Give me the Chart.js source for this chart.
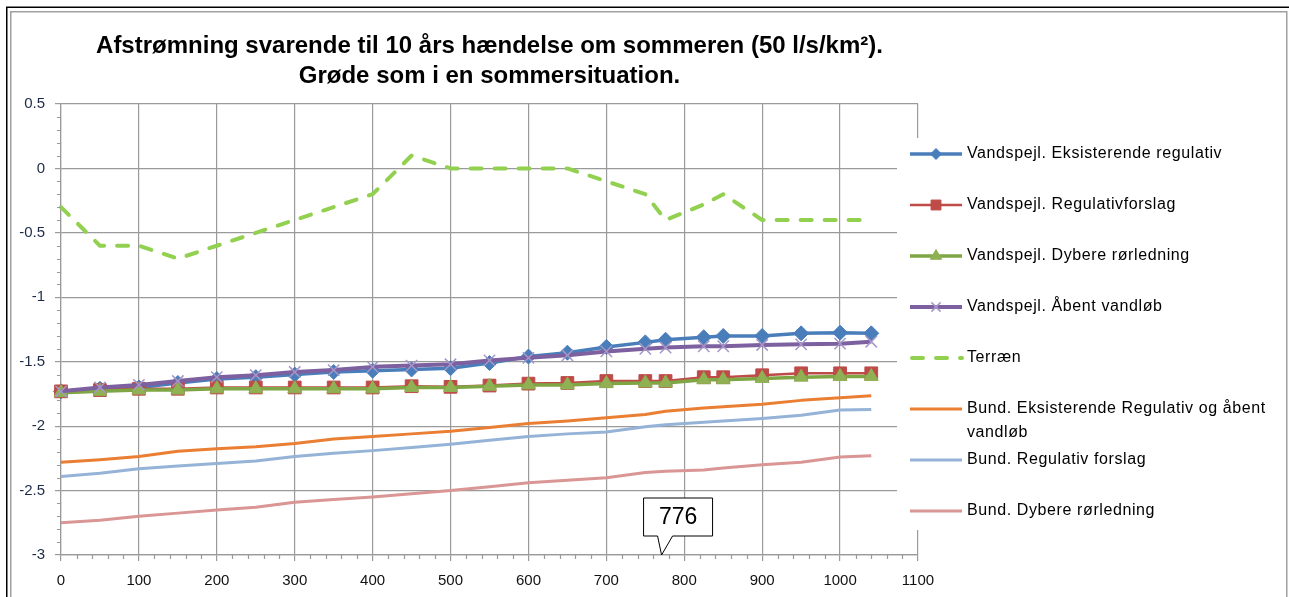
<!DOCTYPE html>
<html><head><meta charset="utf-8">
<script src="https://cdn.jsdelivr.net/npm/chart.js@4/dist/chart.umd.min.js"></script>
<style>html,body{margin:0;padding:0;background:#fff;overflow:hidden}#wrap{position:relative;width:1289px;height:597px}canvas{display:block}</style>
</head><body><div id="wrap"><canvas id="c" width="1289" height="597"></canvas></div>
<script>
// ---- DATA ----
const stations = [0,50,100,150,200,250,300,350,400,450,500,550,600,650,700,750,776,825,850,900,950,1000,1040];
const vsEksisterende = [-1.73,-1.71,-1.70,-1.665,-1.635,-1.62,-1.60,-1.58,-1.57,-1.56,-1.55,-1.51,-1.46,-1.43,-1.385,-1.35,-1.33,-1.31,-1.30,-1.30,-1.28,-1.275,-1.28];
const vsRegulativforslag = [-1.73,-1.72,-1.71,-1.71,-1.70,-1.70,-1.70,-1.70,-1.70,-1.69,-1.695,-1.685,-1.67,-1.665,-1.65,-1.65,-1.65,-1.62,-1.62,-1.605,-1.59,-1.59,-1.59];
const vsDybere = [-1.74,-1.73,-1.72,-1.72,-1.71,-1.71,-1.71,-1.71,-1.71,-1.70,-1.70,-1.69,-1.68,-1.68,-1.67,-1.665,-1.665,-1.64,-1.64,-1.63,-1.62,-1.615,-1.615];
const vsAabent = [-1.73,-1.70,-1.68,-1.65,-1.62,-1.605,-1.58,-1.565,-1.54,-1.53,-1.52,-1.49,-1.47,-1.45,-1.42,-1.40,-1.39,-1.38,-1.38,-1.37,-1.365,-1.36,-1.345];
const terraen = [-0.3,-0.6,-0.6,-0.7,-0.6,-0.5,-0.4,-0.3,-0.2,0.1,0,0,0,0,-0.1,-0.2,-0.4,-0.28,-0.2,-0.4,-0.4,-0.4,-0.4];
const bundEksisterende = [-2.28,-2.26,-2.235,-2.195,-2.175,-2.16,-2.135,-2.1,-2.08,-2.06,-2.04,-2.01,-1.98,-1.96,-1.935,-1.91,-1.885,-1.86,-1.85,-1.83,-1.80,-1.78,-1.765];
const bundRegulativ = [-2.39,-2.365,-2.33,-2.31,-2.29,-2.27,-2.235,-2.21,-2.19,-2.165,-2.14,-2.11,-2.08,-2.06,-2.045,-2.005,-1.99,-1.97,-1.96,-1.94,-1.915,-1.875,-1.87];
const bundDybere = [-2.75,-2.73,-2.70,-2.675,-2.65,-2.63,-2.59,-2.57,-2.55,-2.525,-2.50,-2.47,-2.44,-2.42,-2.40,-2.36,-2.35,-2.34,-2.325,-2.30,-2.28,-2.24,-2.23];
const seriesLabels = ['Vandspejl. Eksisterende regulativ','Vandspejl. Regulativforslag','Vandspejl. Dybere rørledning','Vandspejl. Åbent vandløb','Terræn','Bund. Eksisterende Regulativ og åbent vandløb','Bund. Regulativ forslag','Bund. Dybere rørledning'];
const titleLines = ['Afstrømning svarende til 10 års hændelse om sommeren (50 l/s/km²).','Grøde som i en sommersituation.'];
const xTickRange = {min:0, max:1100, step:100, minor:20};
const yTickRange = {min:-3, max:0.5, step:0.5, minor:0.1};
const calloutStation = 776;
const calloutText = '776';

// ---- BUILD ----
const pts = arr => stations.map((s,i)=>({x:s,y:arr[i]}));
const styles = [
  {c:'#4a7ebb', w:3.5, ps:'rectRot', r:7.5, pc:'#4a7ebb', pb:'#4a7ebb', pw:1, lr:5.5},
  {c:'#be4b48', w:2.5, ps:'rect', r:9, pc:'#be4b48', pb:'#be4b48', pw:1, lr:7},
  {c:'#7fa644', w:3.5, ps:'triangle', r:8, pc:'#8fb153', pb:'#8fb153', pw:1, lr:6.5},
  {c:'#7d60a0', w:4, ps:'crossRot', r:8, pc:'#a596c8', pb:'#a596c8', pw:1.5, lr:6.5},
  {c:'#92d050', w:4, ps:false, r:0, dash:[11,13]},
  {c:'#ea7e32', w:3, ps:false, r:0},
  {c:'#95b3d7', w:3, ps:false, r:0},
  {c:'#d99694', w:3, ps:false, r:0}
];
const seriesData = [vsEksisterende, vsRegulativforslag, vsDybere, vsAabent, terraen, bundEksisterende, bundRegulativ, bundDybere];
const datasets = seriesData.map((arr,i)=>{
  const s = styles[i];
  return {
    label: seriesLabels[i], data: pts(arr),
    borderColor: s.c, borderWidth: s.w, borderDash: s.dash||[], borderCapStyle: s.dash?'round':'butt',
    borderJoinStyle:'round',
    pointStyle: s.ps, pointRadius: s.r, pointBackgroundColor: s.pc||s.c, pointBorderColor: s.pb||s.c,
    pointBorderWidth: s.pw||1, pointHoverRadius: s.r, tension:0, clip:false, fill:false,
    order: 20 - i, _legendRadius: s.lr||0
  };
});

const GRID = '#9a9a9a';
const FONT = '"Liberation Sans", Arial, sans-serif';
const LEG = {boxLeft:897, boxTop:138, boxRight:1284, boxBottom:530, lineX1:910, lineX2:962, textX:967, firstY:154, step:51, maxW:322, lineH:24};

const framePlugin = {
  id:'frame',
  beforeDraw(chart){
    const ctx = chart.ctx; ctx.save();
    ctx.fillStyle='#fff'; ctx.fillRect(0,0,chart.width,chart.height);
    ctx.strokeStyle='#a0a0a0'; ctx.lineWidth=1.5;
    ctx.strokeRect(10.75,11.75,1276,600);
    ctx.strokeStyle='#000'; ctx.lineWidth=1.5;
    ctx.beginPath(); ctx.moveTo(6.75,700); ctx.lineTo(6.75,7.25); ctx.lineTo(1289,7.25); ctx.stroke();
    ctx.restore();
  },
  beforeDatasetsDraw(chart){
    const ctx = chart.ctx; ctx.save();
    ctx.fillStyle='#fff';
    ctx.fillRect(LEG.boxLeft, LEG.boxTop, LEG.boxRight-LEG.boxLeft, LEG.boxBottom-LEG.boxTop);
    ctx.restore();
  },
  afterDraw(chart){
    const ctx = chart.ctx; const {x,y} = chart.scales;
    ctx.save();
    // minor ticks
    ctx.strokeStyle=GRID; ctx.lineWidth=1.2;
    ctx.beginPath();
    const nY = Math.round((yTickRange.max-yTickRange.min)/yTickRange.minor);
    for(let k=0;k<=nY;k++){
      const v = yTickRange.min + k*yTickRange.minor;
      const r = v/yTickRange.step; if(Math.abs(r-Math.round(r))<1e-6) continue;
      const py = Math.round(y.getPixelForValue(v))+0.5;
      ctx.moveTo(x.left-4,py); ctx.lineTo(x.left,py);
    }
    for(let v=xTickRange.min; v<=xTickRange.max; v+=xTickRange.minor){
      if(v % xTickRange.step===0) continue;
      const px = Math.round(x.getPixelForValue(v))+0.5;
      ctx.moveTo(px,y.bottom); ctx.lineTo(px,y.bottom+4);
    }
    ctx.stroke();
    // legend
    ctx.font = '16px ' + FONT;
    try { ctx.letterSpacing = '0.6px'; } catch(e) {}
    ctx.textBaseline='middle'; ctx.textAlign='left';
    chart.data.datasets.forEach((ds,i)=>{
      const cy = LEG.firstY + i*LEG.step;
      ctx.save();
      ctx.strokeStyle=ds.borderColor; ctx.lineWidth=ds.borderWidth; ctx.lineCap=ds.borderCapStyle;
      ctx.setLineDash(ds.borderDash||[]);
      ctx.beginPath(); ctx.moveTo(LEG.lineX1+ (ds.borderDash.length?2:0),cy); ctx.lineTo(LEG.lineX2,cy); ctx.stroke();
      ctx.setLineDash([]);
      if(ds.pointStyle){
        ctx.fillStyle=ds.pointBackgroundColor; ctx.strokeStyle=ds.pointBorderColor; ctx.lineWidth=ds.pointBorderWidth;
        Chart.helpers.drawPoint(ctx,{pointStyle:ds.pointStyle, radius:ds._legendRadius, rotation:0, borderWidth:ds.pointBorderWidth}, (LEG.lineX1+LEG.lineX2)/2, cy);
      }
      ctx.restore();
      ctx.fillStyle='#000';
      const words = ds.label.split(' '); const lines=[]; let cur='';
      words.forEach(w=>{ const t = cur?cur+' '+w:w; if(ctx.measureText(t).width>LEG.maxW && cur){lines.push(cur);cur=w;} else cur=t; });
      lines.push(cur);
      lines.forEach((ln,j)=>ctx.fillText(ln, LEG.textX, cy + j*LEG.lineH));
    });
    try { ctx.letterSpacing = '0px'; } catch(e) {}
    // callout
    const tx = x.getPixelForValue(calloutStation), ty = y.getPixelForValue(yTickRange.min);
    const bl = tx-22, br = tx+47, bt = ty-57, bb = ty-19;
    ctx.beginPath();
    ctx.moveTo(bl,bt); ctx.lineTo(br,bt); ctx.lineTo(br,bb); ctx.lineTo(tx+7,bb); ctx.lineTo(tx-4,ty); ctx.lineTo(tx-8,bb); ctx.lineTo(bl,bb); ctx.closePath();
    ctx.fillStyle='#fff'; ctx.fill(); ctx.strokeStyle='#000'; ctx.lineWidth=1; ctx.stroke();
    ctx.fillStyle='#000'; ctx.font='23px ' + FONT; ctx.textAlign='center'; ctx.textBaseline='middle';
    ctx.fillText(calloutText, (bl+br)/2, (bt+bb)/2+1);
    ctx.restore();
  }
};

const fmt = v => String(Math.round(v*100)/100);

new Chart(document.getElementById('c'), {
  type:'line',
  data:{datasets},
  options:{
    responsive:false, animation:false, devicePixelRatio:1,
    layout:{padding:{left:0,right:371,top:0,bottom:0}},
    plugins:{
      legend:{display:false}, tooltip:{enabled:false},
      title:{display:true, fullSize:false, text:titleLines, color:'#000',
        font:{family:FONT, size:24, weight:'bold', lineHeight:1.25},
        padding:{top:31,bottom:13}}
    },
    scales:{
      x:{type:'linear', min:xTickRange.min, max:xTickRange.max,
        ticks:{stepSize:xTickRange.step, color:'#111', padding:11, maxRotation:0, callback:fmt,
          font:{family:FONT, size:15}},
        grid:{color:GRID, lineWidth:1.2, tickLength:6, tickColor:GRID},
        border:{color:GRID, width:1.2},
        afterFit(s){ s.height = 42; }
      },
      y:{type:'linear', min:yTickRange.min, max:yTickRange.max,
        ticks:{stepSize:yTickRange.step, color:'#1c2a48', padding:10, callback:fmt,
          font:{family:FONT, size:15}},
        grid:{color:GRID, lineWidth:1.2, tickLength:6, tickColor:GRID},
        border:{color:GRID, width:1.2},
        afterFit(s){ s.width = 61; }
      }
    }
  },
  plugins:[framePlugin]
});
</script></body></html>
